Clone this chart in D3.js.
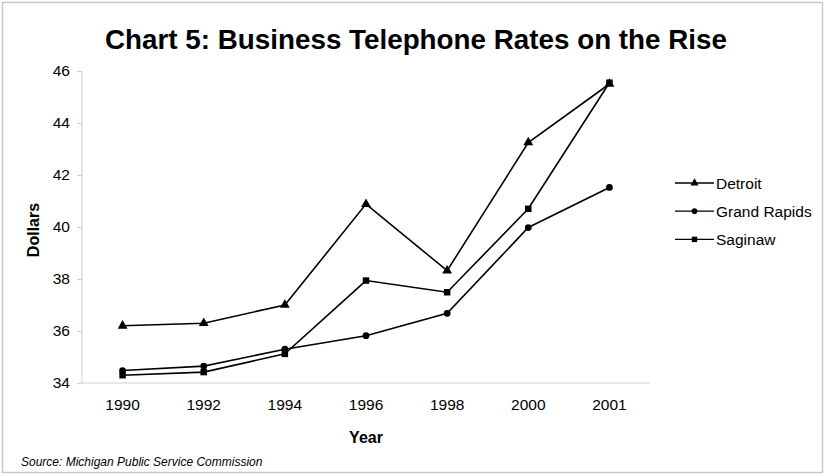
<!DOCTYPE html>
<html>
<head>
<meta charset="utf-8">
<script src="https://cdn.jsdelivr.net/npm/d3@7"></script>
<style>
  body { margin: 0; background: #fff; }
  svg { display: block; font-family: "Liberation Sans", Arial, sans-serif; }
</style>
</head>
<body>
<svg id="chart" width="825" height="476"></svg>
<script>
// data
var years = ["1990", "1992", "1994", "1996", "1998", "2000", "2001"];
var detroit = [36.2, 36.3, 37.0, 40.88, 38.32, 43.25, 45.5];
var grandRapids = [34.48, 34.65, 35.3, 35.82, 36.68, 39.98, 41.52];
var saginaw = [34.3, 34.42, 35.12, 37.94, 37.49, 40.7, 45.55];
var yTicks = [34, 36, 38, 40, 42, 44, 46];

var seriesNames = ["Detroit", "Grand Rapids", "Saginaw"];
var seriesShapes = [d3.symbolTriangle, d3.symbolCircle, d3.symbolSquare];
var seriesSizes = [42, 36, 42];

var svg = d3.select("#chart");
var margin = {top: 71, right: 175, bottom: 93, left: 82},
    width = 825 - margin.left - margin.right,
    height = 476 - margin.top - margin.bottom;

// outer frame
svg.append("rect")
  .attr("x", 2.5).attr("y", 2.5)
  .attr("width", 820).attr("height", 470)
  .attr("fill", "none")
  .attr("stroke", "#c8c8c8")
  .attr("stroke-width", 1.5);

// title
svg.append("text")
  .attr("x", 416).attr("y", 49)
  .attr("text-anchor", "middle")
  .attr("font-size", "27.8px")
  .attr("font-weight", "bold")
  .attr("fill", "#000")
  .text("Chart 5: Business Telephone Rates on the Rise");

var g = svg.append("g")
  .attr("transform", "translate(" + margin.left + "," + margin.top + ")");

var x = d3.scaleBand().domain(years).range([0, width]);
var y = d3.scaleLinear().domain([34, 46]).range([height, 0]);

// y axis
var yAxis = g.append("g")
  .call(d3.axisLeft(y).tickValues(yTicks).tickSize(5).tickPadding(7).tickFormat(d3.format("d")));
yAxis.select(".domain").attr("stroke", "#cfcfcf").attr("d", "M0,0V" + height);
yAxis.selectAll(".tick line").attr("stroke", "#cfcfcf");
yAxis.selectAll(".tick text")
  .attr("font-size", "15.5px")
  .attr("font-family", "Liberation Sans, Arial, sans-serif")
  .attr("fill", "#000");

// x axis
var xAxis = g.append("g")
  .attr("transform", "translate(0," + height + ")")
  .call(d3.axisBottom(x).tickSize(0).tickPadding(16));
xAxis.select(".domain").attr("stroke", "#cfcfcf").attr("d", "M0,0H" + width);
xAxis.selectAll(".tick text")
  .attr("font-size", "15.5px")
  .attr("font-family", "Liberation Sans, Arial, sans-serif")
  .attr("fill", "#000");

// axis titles
svg.append("text")
  .attr("transform", "translate(39,230) rotate(-90)")
  .attr("text-anchor", "middle")
  .attr("font-size", "16px")
  .attr("font-weight", "bold")
  .text("Dollars");

svg.append("text")
  .attr("x", margin.left + width / 2).attr("y", 443)
  .attr("text-anchor", "middle")
  .attr("font-size", "16px")
  .attr("font-weight", "bold")
  .text("Year");

svg.append("text")
  .attr("x", 21).attr("y", 466)
  .attr("font-size", "12px")
  .attr("font-style", "italic")
  .text("Source: Michigan Public Service Commission");

// lines + markers
var allSeries = [detroit, grandRapids, saginaw];
var line = d3.line()
  .x(function(d, i) { return x(years[i]) + x.bandwidth() / 2; })
  .y(function(d) { return y(d); });

allSeries.forEach(function(vals, s) {
  g.append("path")
    .datum(vals)
    .attr("fill", "none")
    .attr("stroke", "#000")
    .attr("stroke-width", 1.6)
    .attr("d", line);

  g.selectAll(".m" + s)
    .data(vals)
    .enter().append("path")
      .attr("class", "m" + s)
      .attr("transform", function(d, i) {
        return "translate(" + (x(years[i]) + x.bandwidth() / 2) + "," + y(d) + ")";
      })
      .attr("d", d3.symbol().type(seriesShapes[s]).size(seriesSizes[s]))
      .attr("fill", "#000");
});

// legend
var legend = svg.append("g").attr("transform", "translate(675,183)");
seriesNames.forEach(function(name, s) {
  var row = legend.append("g").attr("transform", "translate(0," + (s * 28.2) + ")");
  row.append("line")
    .attr("x1", 0).attr("x2", 39)
    .attr("stroke", "#000").attr("stroke-width", 1.3);
  row.append("path")
    .attr("transform", "translate(19.5,0)")
    .attr("d", d3.symbol().type(seriesShapes[s]).size(seriesSizes[s] * 0.7))
    .attr("fill", "#000");
  row.append("text")
    .attr("x", 41).attr("y", 0)
    .attr("dy", "0.36em")
    .attr("font-size", "15.5px")
    .text(name);
});
</script>
</body>
</html>
